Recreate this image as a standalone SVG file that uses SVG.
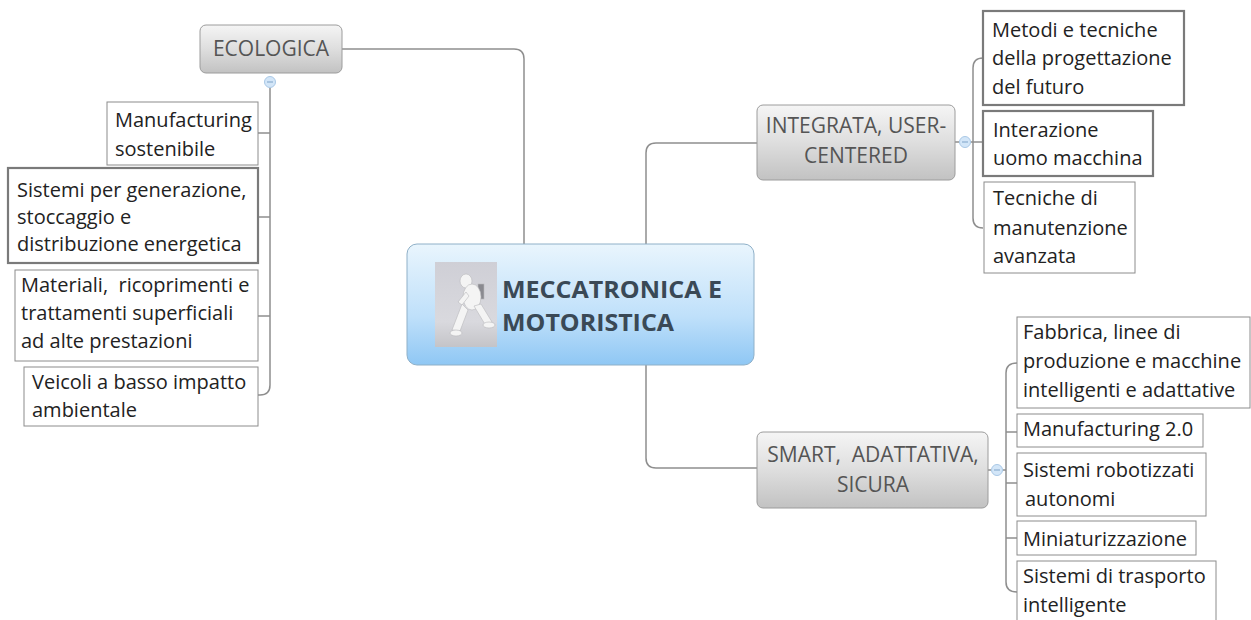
<svg xmlns="http://www.w3.org/2000/svg" width="1251" height="620" viewBox="0 0 1251 620">
<defs>
<linearGradient id="gGray" x1="0" y1="0" x2="0" y2="1">
<stop offset="0" stop-color="#f5f5f5"/>
<stop offset="0.5" stop-color="#dedede"/>
<stop offset="1" stop-color="#c2c2c2"/>
</linearGradient>
<linearGradient id="gBlue" x1="0" y1="0" x2="0" y2="1">
<stop offset="0" stop-color="#e9f5fd"/>
<stop offset="0.6" stop-color="#bfe0fa"/>
<stop offset="1" stop-color="#8fc7f4"/>
</linearGradient>
<linearGradient id="gPhoto" x1="0" y1="0" x2="0" y2="1">
<stop offset="0" stop-color="#cfcfd6"/>
<stop offset="0.7" stop-color="#d9d9de"/>
<stop offset="1" stop-color="#c4c4c8"/>
</linearGradient>
<g id="tog">
<circle r="5.5" fill="#d3e6f8" stroke="#a9c8e6" stroke-width="1"/>
<line x1="-3" y1="0" x2="3" y2="0" stroke="#7fa3c8" stroke-width="1"/>
</g>
</defs>
<style>
.t{font-family:"Open Sans","Noto Sans","DejaVu Sans",sans-serif;font-size:20px;fill:#222;white-space:pre}
.g{font-family:"Open Sans","Noto Sans","DejaVu Sans",sans-serif;font-size:21px;fill:#555;text-anchor:middle;white-space:pre}
.c{font-family:"Open Sans","Noto Sans","DejaVu Sans",sans-serif;font-size:24px;font-weight:bold;fill:#3a4956}
.bx{fill:#fff;stroke:#8c8c8c;stroke-width:1}
.bxk{fill:#fff;stroke:#7a7a7a;stroke-width:2.2}
.gn{fill:url(#gGray);stroke:#9c9c9c;stroke-width:1}
.ln{fill:none;stroke:#8e8e8e;stroke-width:1.5}
</style>
<rect width="1251" height="620" fill="#fff"/>

<g id="connectors">
<path class="ln" d="M342,49 H514 Q524,49 524,59 V245"/>
<path class="ln" d="M646,245 V153 Q646,143 656,143 H757"/>
<path class="ln" d="M646,365 V458 Q646,468 656,468 H757"/>
<path class="ln" d="M270,88 V385 Q270,395 260,395 H258"/>
<path class="ln" d="M258,133 H270 M258,217 H270 M258,316 H270"/>
<path class="ln" d="M955,142 H959 M971,142 H983"/>
<path class="ln" d="M983,58 Q973,58 973,68 V218 Q973,228 983,228"/>
<path class="ln" d="M988,470 H991 M1003,470 H1006"/>
<path class="ln" d="M1017,363 Q1006,363 1006,373 V582 Q1006,592 1017,592"/>
<path class="ln" d="M1006,432 H1017 M1006,483 H1017 M1006,538 H1017"/>
<use href="#tog" x="270" y="82"/>
<use href="#tog" x="965" y="142"/>
<use href="#tog" x="997" y="470"/>
</g>

<g id="center">
<rect x="407" y="244" width="347" height="121" rx="10" fill="url(#gBlue)" stroke="#8fb0c8" stroke-width="1"/>
<rect x="435" y="262" width="62" height="85" fill="url(#gPhoto)"/>
<g fill="#f4f4f4" stroke="#b8b8bc" stroke-width="0.6">
<ellipse cx="466" cy="281" rx="6" ry="7"/>
<rect x="478" y="284" width="6" height="15" fill="#8a8a90"/>
<ellipse cx="472" cy="297" rx="9" ry="13"/>
<path d="M462,304 L452,330 L460,331 L468,310 Z"/>
<path d="M474,306 L486,326 L492,322 L481,304 Z"/>
<ellipse cx="456" cy="333" rx="6" ry="3"/>
<ellipse cx="489" cy="325" rx="6" ry="3"/>
<path d="M466,292 L458,302 L462,305 L469,296 Z"/>
</g>
<text class="c" x="502" y="298" textLength="220" lengthAdjust="spacingAndGlyphs">MECCATRONICA E</text>
<text class="c" x="502" y="331" textLength="172" lengthAdjust="spacingAndGlyphs">MOTORISTICA</text>
</g>

<g id="ecologica">
<rect class="gn" x="200" y="25" width="142" height="48" rx="6"/>
<text class="g" x="271" y="56">ECOLOGICA</text>
</g>
<g id="manufacturing-sostenibile">
<rect class="bx" x="107" y="102" width="151" height="63"/>
<text class="t" x="115" y="127">Manufacturing</text>
<text class="t" x="115" y="156">sostenibile</text>
</g>
<g id="sistemi-energetica">
<rect class="bxk" x="8" y="168" width="250" height="95"/>
<text class="t" x="17" y="197">Sistemi per generazione,</text>
<text class="t" x="17" y="224">stoccaggio e</text>
<text class="t" x="17" y="251">distribuzione energetica</text>
</g>
<g id="materiali">
<rect class="bx" x="15" y="270" width="243" height="91"/>
<text class="t" x="21" y="292">Materiali,  ricoprimenti e</text>
<text class="t" x="21" y="320">trattamenti superficiali</text>
<text class="t" x="21" y="348">ad alte prestazioni</text>
</g>
<g id="veicoli">
<rect class="bx" x="24" y="367" width="234" height="59"/>
<text class="t" x="32" y="389">Veicoli a basso impatto</text>
<text class="t" x="32" y="417">ambientale</text>
</g>

<g id="integrata">
<rect class="gn" x="757" y="105" width="198" height="75" rx="6"/>
<text class="g" x="856" y="133">INTEGRATA, USER-</text>
<text class="g" x="856" y="163">CENTERED</text>
</g>
<g id="metodi">
<rect class="bxk" x="983" y="11" width="201" height="94"/>
<text class="t" x="992" y="37">Metodi e tecniche</text>
<text class="t" x="992" y="65">della progettazione</text>
<text class="t" x="992" y="94">del futuro</text>
</g>
<g id="interazione">
<rect class="bxk" x="983" y="111" width="170" height="65"/>
<text class="t" x="993" y="137">Interazione</text>
<text class="t" x="993" y="165">uomo macchina</text>
</g>
<g id="tecniche">
<rect class="bx" x="984" y="182" width="151" height="91"/>
<text class="t" x="993" y="205">Tecniche di</text>
<text class="t" x="993" y="235">manutenzione</text>
<text class="t" x="993" y="263">avanzata</text>
</g>

<g id="smart">
<rect class="gn" x="757" y="432" width="231" height="76" rx="6"/>
<text class="g" x="873" y="462">SMART,  ADATTATIVA,</text>
<text class="g" x="873" y="492">SICURA</text>
</g>
<g id="fabbrica">
<rect class="bx" x="1017" y="317" width="233" height="91"/>
<text class="t" x="1023" y="339">Fabbrica, linee di</text>
<text class="t" x="1023" y="368">produzione e macchine</text>
<text class="t" x="1023" y="397">intelligenti e adattative</text>
</g>
<g id="manufacturing-20">
<rect class="bx" x="1017" y="414" width="186" height="33"/>
<text class="t" x="1023" y="436">Manufacturing 2.0</text>
</g>
<g id="robotizzati">
<rect class="bx" x="1017" y="453" width="189" height="63"/>
<text class="t" x="1023" y="477">Sistemi robotizzati</text>
<text class="t" x="1025" y="506">autonomi</text>
</g>
<g id="miniaturizzazione">
<rect class="bx" x="1017" y="521" width="179" height="34"/>
<text class="t" x="1023" y="546">Miniaturizzazione</text>
</g>
<g id="trasporto">
<rect class="bx" x="1017" y="561" width="199" height="70"/>
<text class="t" x="1023" y="583">Sistemi di trasporto</text>
<text class="t" x="1023" y="612">intelligente</text>
</g>
</svg>
